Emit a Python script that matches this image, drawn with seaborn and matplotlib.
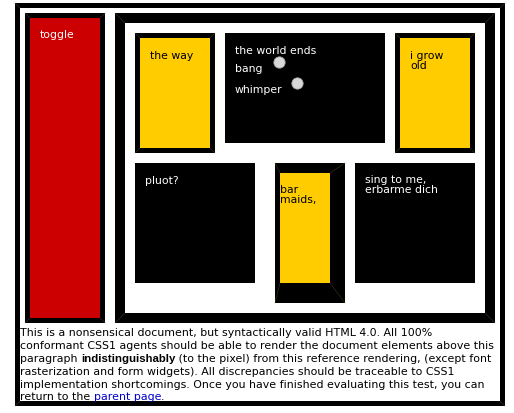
import matplotlib
matplotlib.use("Agg")
import matplotlib.pyplot as plt
from matplotlib.patches import Rectangle
import seaborn as sns

# ---- content -------------------------------------------------------------
BLACK = "#000000"
RED = "#cc0000"
YELLOW = "#ffcc00"
WHITE = "#ffffff"

# boxes: name, left, top, right, bottom, border (top, right, bottom, left), fill
box_names = ["outer", "toggle", "body", "the way", "world", "grow",
             "pluot", "bar", "sing"]
box_left = [15, 25, 115, 135, 225, 395, 135, 275, 355]
box_top = [4, 14, 14, 34, 34, 34, 164, 164, 164]
box_right = [505, 105, 495, 215, 385, 475, 255, 345, 475]
box_bottom = [407, 324, 324, 154, 144, 154, 284, 304, 284]
box_border = [(5, 5, 5, 5), (5, 5, 5, 5), (10, 10, 10, 10), (5, 5, 5, 5),
              (0, 0, 0, 0), (5, 5, 5, 5), (0, 0, 0, 0), (10, 15, 20, 5),
              (0, 0, 0, 0)]
box_fill = [WHITE, RED, WHITE, YELLOW, BLACK, YELLOW, BLACK, YELLOW, BLACK]

# labels inside the boxes: text, x, baseline, colour
label_text = ["toggle", "the way", "the world ends", "bang", "whimper",
              "i grow", "old", "pluot?", "bar", "maids,",
              "sing to me,", "erbarme dich"]
label_x = [40, 150, 235, 235, 235, 410, 410, 145, 280, 280, 365, 365]
label_y = [38.5, 59, 54, 72, 93, 59, 69, 184, 193.5, 203.5, 183.5, 193.5]
label_color = [WHITE, BLACK, WHITE, WHITE, WHITE, BLACK, BLACK, WHITE,
               BLACK, BLACK, WHITE, WHITE]

# radio buttons
radio_x = [278.7, 296.7]
radio_y = [63.3, 84.3]

# closing paragraph, one list of (text, style) runs per line
para_lines = [
    [("This is a nonsensical document, but syntactically valid HTML 4.0. All 100%", "n")],
    [("conformant CSS1 agents should be able to render the document elements above this", "n")],
    [("paragraph ", "n"), ("indistinguishably", "b"),
     (" (to the pixel) from this reference rendering, (except font", "n")],
    [("rasterization and form widgets). All discrepancies should be traceable to CSS1", "n")],
    [("implementation shortcomings. Once you have finished evaluating this test, you can", "n")],
    [("return to the ", "n"), ("parent page", "a"), (".", "n")],
]
para_x = 20
para_y = [336, 349, 362, 375, 388, 400.5]

# ---- drawing -------------------------------------------------------------
sns.set_style("white")
plt.rcParams["font.family"] = ["DejaVu Sans"]

fig = plt.figure(figsize=(5.14, 4.14), dpi=100, facecolor="white")
ax = fig.add_axes([0, 0, 1, 1])
ax.set_xlim(0, 514)
ax.set_ylim(414, 0)
ax.axis("off")

for i in range(len(box_names)):
    l, t, r, b = box_left[i], box_top[i], box_right[i], box_bottom[i]
    bt, br, bb, bl = box_border[i]
    if any(box_border[i]):
        ax.add_patch(Rectangle((l, t), r - l, b - t, facecolor=BLACK,
                               edgecolor="none", lw=0))
        # faint bevel seams at the border corners
        seam = "#6b5a1e" if box_fill[i] == YELLOW else "#555555"
        for (x0, y0, x1, y1) in [(l, t, l + bl, t + bt), (r, t, r - br, t + bt),
                                 (l, b, l + bl, b - bb), (r, b, r - br, b - bb)]:
            ax.plot([x0, x1], [y0, y1], color=seam, lw=0.5, alpha=0.5)
    ax.add_patch(Rectangle((l + bl, t + bt), r - l - bl - br, b - t - bt - bb,
                           facecolor=box_fill[i], edgecolor="none", lw=0))

for txt, x, y, c in zip(label_text, label_x, label_y, label_color):
    ax.text(x, y, txt, color=c, fontsize=7.8, ha="left", va="baseline")

sns.scatterplot(x=radio_x, y=radio_y, s=66, color="#d8d8d8",
                edgecolor="#a8a8a8", linewidth=0.6, ax=ax, zorder=5)

style_kw = {"n": dict(color=BLACK, fontsize=7.95),
            "b": dict(color=BLACK, fontweight="bold", fontsize=8.2,
                      family=["Liberation Sans", "DejaVu Sans"]),
            "a": dict(color="#0000cc", fontsize=7.95)}
for runs, y in zip(para_lines, para_y):
    prev = None
    for txt, st in runs:
        if prev is None:
            prev = ax.text(para_x, y, txt, ha="left", va="baseline",
                           **style_kw[st])
        else:
            prev = ax.annotate(txt, xy=(1, 0), xycoords=prev,
                               ha="left", va="bottom", **style_kw[st])

fig.savefig("out.png", dpi=100, facecolor="white")
